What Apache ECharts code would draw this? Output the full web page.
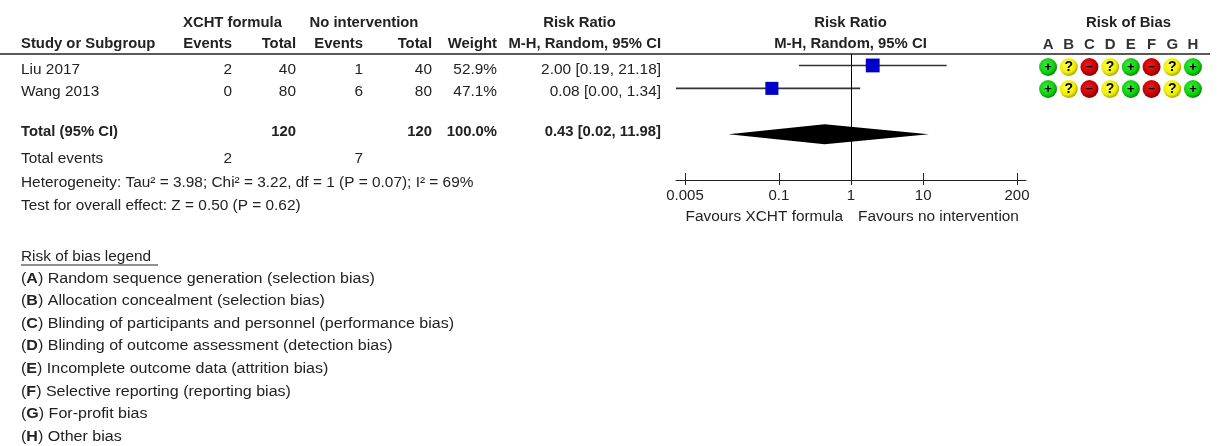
<!DOCTYPE html>
<html>
<head>
<meta charset="utf-8">
<script src="https://cdn.jsdelivr.net/npm/echarts@6/dist/echarts.min.js"></script>
<style>
  html, body { margin: 0; padding: 0; background: #fff; }
  #chart { width: 1230px; height: 446px; }
</style>
</head>
<body>
<div id="chart"></div>
<script>
// ---- Study-level data ----
const studies = ['Liu 2017', 'Wang 2013'];
const xchtEvents = [2, 0];
const xchtTotal = [40, 80];
const noIntEvents = [1, 6];
const noIntTotal = [40, 80];
const weights = [52.9, 47.1];
const riskRatio = [2.00, 0.08];
const ciLower = [0.19, 0.00];
const ciUpper = [21.18, 1.34];

// ---- Pooled (random-effects) estimate ----
const pooledRR = 0.43;
const pooledLower = 0.02;
const pooledUpper = 11.98;
const pooledWeight = 100.0;

const heterogeneityText = 'Heterogeneity: Tau\u00B2 = 3.98; Chi\u00B2 = 3.22, df = 1 (P = 0.07); I\u00B2 = 69%';
const overallEffectText = 'Test for overall effect: Z = 0.50 (P = 0.62)';

// ---- Axis ticks of the risk-ratio scale ----
const axisTicks = [0.005, 0.1, 1, 10, 200];
const favoursLeft = 'Favours XCHT formula';
const favoursRight = 'Favours no intervention';

// ---- Risk of bias judgements ----
const biasDomains = ['A', 'B', 'C', 'D', 'E', 'F', 'G', 'H'];
const biasLiu = ['+', '?', '-', '?', '+', '-', '?', '+'];
const biasWang = ['+', '?', '-', '?', '+', '-', '?', '+'];
const biasLegend = [
  ['A', 'Random sequence generation (selection bias)'],
  ['B', 'Allocation concealment (selection bias)'],
  ['C', 'Blinding of participants and personnel (performance bias)'],
  ['D', 'Blinding of outcome assessment (detection bias)'],
  ['E', 'Incomplete outcome data (attrition bias)'],
  ['F', 'Selective reporting (reporting bias)'],
  ['G', 'For-profit bias'],
  ['H', 'Other bias']
];

// ---- helpers ----
const FONT = '"Liberation Sans", Arial, sans-serif';
const INK = '#222';
const f2 = v => v.toFixed(2);
const sum = a => a.reduce((s, v) => s + v, 0);

function txt(x, y, s, o) {
  o = o || {};
  const bold = !!o.bold;
  return {
    type: 'text', x: x, y: y, silent: true,
    scaleX: o.sx || (bold ? 1.06 : 1.1),
    style: {
      text: s,
      fill: INK,
      fontFamily: FONT,
      fontSize: 14,
      fontWeight: bold ? 'bold' : 'normal',
      align: o.align || 'left',
      verticalAlign: 'middle',
      rich: o.rich
    }
  };
}

// column anchors of the table
const colStudy = 21, colEv1 = 232, colTot1 = 296, colEv2 = 363, colTot2 = 432, colW = 497, colRR = 661;
const hdr1 = 23, hdr2 = 44.5;
const rowY = [70, 92.5];
const totalY = 132.5, totEvY = 159.5, hetY = 183, testY = 206.5;

const g = [];
// header
g.push(txt(232.5, hdr1, 'XCHT formula', { bold: true, align: 'center' }));
g.push(txt(364, hdr1, 'No intervention', { bold: true, align: 'center' }));
g.push(txt(579.5, hdr1, 'Risk Ratio', { bold: true, align: 'center' }));
g.push(txt(850.5, hdr1, 'Risk Ratio', { bold: true, align: 'center' }));
g.push(txt(1128.5, hdr1, 'Risk of Bias', { bold: true, align: 'center' }));
g.push(txt(colStudy, hdr2, 'Study or Subgroup', { bold: true }));
g.push(txt(colEv1, hdr2, 'Events', { bold: true, align: 'right' }));
g.push(txt(colTot1, hdr2, 'Total', { bold: true, align: 'right' }));
g.push(txt(colEv2, hdr2, 'Events', { bold: true, align: 'right' }));
g.push(txt(colTot2, hdr2, 'Total', { bold: true, align: 'right' }));
g.push(txt(colW, hdr2, 'Weight', { bold: true, align: 'right' }));
g.push(txt(colRR, hdr2, 'M-H, Random, 95% CI', { bold: true, align: 'right' }));
g.push(txt(850.5, hdr2, 'M-H, Random, 95% CI', { bold: true, align: 'center' }));
g.push({ type: 'line', silent: true, shape: { x1: 0, y1: 54, x2: 1210, y2: 54 }, style: { stroke: INK, lineWidth: 1.6 } });

// study rows
studies.forEach((s, i) => {
  const y = rowY[i];
  g.push(txt(colStudy, y, s));
  g.push(txt(colEv1, y, String(xchtEvents[i]), { align: 'right' }));
  g.push(txt(colTot1, y, String(xchtTotal[i]), { align: 'right' }));
  g.push(txt(colEv2, y, String(noIntEvents[i]), { align: 'right' }));
  g.push(txt(colTot2, y, String(noIntTotal[i]), { align: 'right' }));
  g.push(txt(colW, y, weights[i].toFixed(1) + '%', { align: 'right' }));
  g.push(txt(colRR, y, f2(riskRatio[i]) + ' [' + f2(ciLower[i]) + ', ' + f2(ciUpper[i]) + ']', { align: 'right' }));
});

// totals
g.push(txt(colStudy, totalY, 'Total (95% CI)', { bold: true }));
g.push(txt(colTot1, totalY, String(sum(xchtTotal)), { bold: true, align: 'right' }));
g.push(txt(colTot2, totalY, String(sum(noIntTotal)), { bold: true, align: 'right' }));
g.push(txt(colW, totalY, pooledWeight.toFixed(1) + '%', { bold: true, align: 'right' }));
g.push(txt(colRR, totalY, f2(pooledRR) + ' [' + f2(pooledLower) + ', ' + f2(pooledUpper) + ']', { bold: true, align: 'right' }));
g.push(txt(colStudy, totEvY, 'Total events'));
g.push(txt(colEv1, totEvY, String(sum(xchtEvents)), { align: 'right' }));
g.push(txt(colEv2, totEvY, String(sum(noIntEvents)), { align: 'right' }));
g.push(txt(colStudy, hetY, heterogeneityText));
g.push(txt(colStudy, testY, overallEffectText));

// favours captions under the axis
g.push(txt(843, 217, favoursLeft, { align: 'right' }));
g.push(txt(858, 217, favoursRight));

// risk of bias legend
g.push(txt(colStudy, 256.7, 'Risk of bias legend'));
g.push({ type: 'line', silent: true, shape: { x1: 21, y1: 265, x2: 158, y2: 265 }, style: { stroke: INK, lineWidth: 1 } });
biasLegend.forEach((d, i) => {
  g.push(txt(colStudy, 279 + i * 22.53, '({b|' + d[0] + '}) ' + d[1], {
    sx: 1.145,
    rich: { b: { fontWeight: 'bold', fontFamily: FONT, fontSize: 14, fill: INK, color: INK } }
  }));
});

// ---- risk-ratio scale extents (a little room beyond the outer ticks) ----
const xMin = axisTicks[0] / 1.3335;
const xMax = axisTicks[axisTicks.length - 1] * 1.3335;
const pooledRow = 3;

const tickFmt = v => String(parseFloat(Number(v).toPrecision(4)));

// ---- risk of bias dots ----
const biasColors = {
  '+': ['#40f040', '#10cc10', '#078a07'],
  '?': ['#ffff60', '#eeee00', '#a8a800'],
  '-': ['#e82020', '#c80000', '#800000']
};
const biasGlyph = { '+': '+', '?': '?', '-': '\u2013' };
const biasGlyphSize = { '+': 13, '?': 14, '-': 12 };
const biasData = [];
[biasLiu, biasWang].forEach((row, r) => {
  row.forEach((j, c) => {
    const cs = biasColors[j];
    biasData.push({
      name: j,
      value: [c, r],
      itemStyle: {
        opacity: 1,
        color: {
          type: 'radial', x: 0.42, y: 0.4, r: 0.6,
          colorStops: [{ offset: 0, color: cs[0] }, { offset: 0.7, color: cs[1] }, { offset: 1, color: cs[2] }]
        }
      },
      label: { fontSize: biasGlyphSize[j] }
    });
  });
});

const chart = echarts.init(document.getElementById('chart'), null, { renderer: 'canvas' });
chart.setOption({
  backgroundColor: '#fff',
  animation: false,
  textStyle: { fontFamily: FONT },
  grid: [
    { left: 676, top: 54, width: 350, height: 126 },
    { left: 1037.7, top: 56, width: 165.6, height: 44 }
  ],
  xAxis: [
    {
      type: 'log', gridIndex: 0, min: xMin, max: xMax,
      axisLine: { onZero: false, lineStyle: { color: INK, width: 1 } },
      axisTick: { show: true, customValues: axisTicks, length: 5, lineStyle: { color: INK, width: 1 } },
      axisLabel: { customValues: axisTicks, formatter: tickFmt, fontSize: 15, color: INK, margin: 8, fontFamily: FONT },
      splitLine: { show: false }, minorTick: { show: false }
    },
    {
      type: 'log', gridIndex: 0, min: xMin, max: xMax, position: 'bottom',
      axisLine: { show: false, onZero: false },
      axisTick: { show: true, inside: true, customValues: axisTicks, length: 7, lineStyle: { color: INK, width: 1 } },
      axisLabel: { show: false }, splitLine: { show: false }
    },
    {
      type: 'category', gridIndex: 1, data: biasDomains, position: 'top',
      axisLine: { show: false }, axisTick: { show: false },
      axisLabel: { fontSize: 15, fontWeight: 'bold', color: '#333', margin: 4, fontFamily: FONT },
      splitLine: { show: false }
    }
  ],
  yAxis: [
    { type: 'value', gridIndex: 0, inverse: true, min: -0.5, max: 5, show: false },
    { type: 'category', gridIndex: 1, data: studies, inverse: true, show: false }
  ],
  series: [
    {
      // confidence intervals of the individual studies
      type: 'custom', xAxisIndex: 0, yAxisIndex: 0, clip: true, z: 2,
      encode: { x: [0, 1], y: 2 },
      data: studies.map((s, i) => [Math.max(ciLower[i], xMin), ciUpper[i], i]),
      renderItem: (params, api) => {
        const a = api.coord([api.value(0), api.value(2)]);
        const b = api.coord([api.value(1), api.value(2)]);
        return {
          type: 'line',
          shape: { x1: a[0], y1: a[1], x2: b[0], y2: b[1] },
          style: { stroke: '#333', lineWidth: 1.6 }
        };
      },
      markLine: {
        silent: true, symbol: 'none', label: { show: false },
        lineStyle: { color: '#000', width: 1, type: 'solid' },
        data: [{ xAxis: 1 }]
      }
    },
    {
      // point estimates, square area proportional to weight
      type: 'scatter', xAxisIndex: 0, yAxisIndex: 0, z: 3,
      symbol: 'rect',
      symbolSize: v => Math.sqrt(v[2]) * 1.9,
      itemStyle: { color: '#0000c8', opacity: 1 },
      data: studies.map((s, i) => [riskRatio[i], i, weights[i]])
    },
    {
      // pooled estimate diamond
      type: 'custom', xAxisIndex: 0, yAxisIndex: 0, z: 3,
      encode: { x: [0, 1, 2], y: 3 },
      data: [[pooledRR, pooledLower, pooledUpper, pooledRow]],
      renderItem: (params, api) => {
        const c = api.coord([api.value(0), api.value(3)]);
        const l = api.coord([api.value(1), api.value(3)]);
        const r = api.coord([api.value(2), api.value(3)]);
        const h = 10;
        return {
          type: 'polygon',
          shape: { points: [[l[0], c[1]], [c[0], c[1] - h], [r[0], c[1]], [c[0], c[1] + h]] },
          style: { fill: '#000' }
        };
      }
    },
    {
      // risk of bias judgements
      type: 'scatter', xAxisIndex: 2, yAxisIndex: 1, z: 3,
      symbol: 'circle', symbolSize: 18,
      itemStyle: { opacity: 1 },
      data: biasData,
      label: {
        show: true, position: 'inside',
        formatter: p => biasGlyph[p.name],
        color: '#000', fontWeight: 'bold', fontFamily: FONT
      }
    }
  ],
  graphic: g
});
</script>
</body>
</html>
